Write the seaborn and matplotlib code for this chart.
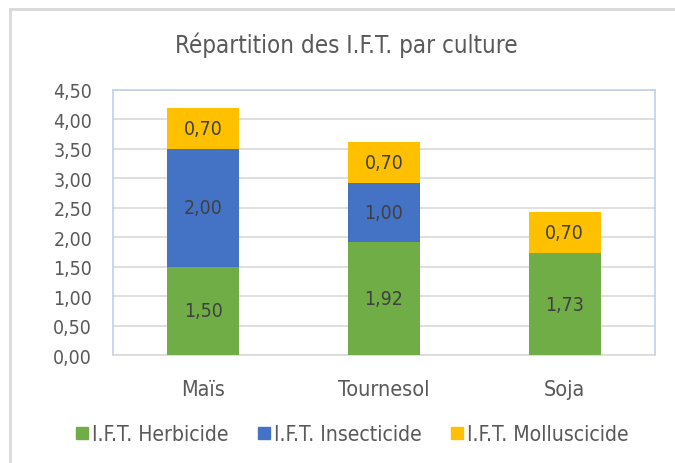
import matplotlib
matplotlib.use("Agg")
import matplotlib.pyplot as plt
import seaborn as sns
import numpy as np
import pandas as pd
from matplotlib.patches import Rectangle
from matplotlib.lines import Line2D

cultures = ["Maïs", "Tournesol", "Soja"]
herbicide = [1.50, 1.92, 1.73]
insecticide = [2.00, 1.00, 0.00]
molluscicide = [0.70, 0.70, 0.70]
series_names = ["I.F.T. Herbicide", "I.F.T. Insecticide", "I.F.T. Molluscicide"]
colors = ["#70AD47", "#4472C4", "#FFC000"]
yticks = [0.0, 0.5, 1.0, 1.5, 2.0, 2.5, 3.0, 3.5, 4.0, 4.5]

sns.set_theme(style="white")
plt.rcParams['font.family'] = ['DejaVu Sans']
plt.rcParams['font.stretch'] = 'condensed'
txt = "#595959"

fig = plt.figure(figsize=(6.75, 4.64), dpi=100)
ax = fig.add_axes([113/675, 1-356/464, 542/675, 265/464])

df = pd.DataFrame({"culture": cultures, "h": herbicide, "i": insecticide, "m": molluscicide})
bottom = np.zeros(len(cultures))
for col, name, c in zip(["h", "i", "m"], series_names, colors):
    vals = df[col].values
    sns.barplot(data=df, x="culture", y=col, bottom=bottom, color=c, width=0.4,
                ax=ax, saturation=1, zorder=3, edgecolor="none", linewidth=0)
    cont = ax.containers[-1]
    labels = [("%.2f" % v).replace(".", ",") if v > 0 else "" for v in vals]
    ax.bar_label(cont, labels=labels, label_type="center", color="#404040", fontsize=14)
    bottom = bottom + vals

ax.set_ylim(0, 4.5)
ax.set_xlim(-0.5, 2.5)
ax.set_yticks(yticks)
ax.set_yticklabels([("%.2f" % v).replace(".", ",") for v in yticks], fontsize=14, color=txt)
ax.tick_params(axis="x", labelsize=15.5, labelcolor=txt, pad=17, length=0)
ax.tick_params(axis="y", length=0, pad=15)
ax.set_xlabel("")
ax.set_ylabel("")
ax.yaxis.grid(True, color="#D9D9D9", linewidth=1.2, zorder=0)
ax.set_axisbelow(True)
for s in ax.spines.values():
    s.set_color("#BDD1EA")
    s.set_linewidth(1.2)
ax.spines["bottom"].set_color("#D9D9D9")

fig.text(346/675, 1-45/464, "Répartition des I.F.T. par culture", ha="center", va="center",
         fontsize=17.3, color=txt)

handles = [Line2D([0], [0], marker="s", linestyle="none", markersize=8.5,
                  markerfacecolor=c, markeredgecolor=c) for c in colors]
fig.legend(handles, series_names, loc="center", bbox_to_anchor=(351/675, 1-435/464),
           ncol=3, frameon=False, fontsize=15.2, labelcolor=txt, handletextpad=0.1,
           columnspacing=1.25, handlelength=0.8)

fig.patches.append(Rectangle((10/675, -0.1), 1.2, 1 - 10/464 + 0.1, transform=fig.transFigure,
                             fill=False, edgecolor="#D9D9D9", linewidth=2, zorder=0))

fig.savefig("out.png", dpi=100)
